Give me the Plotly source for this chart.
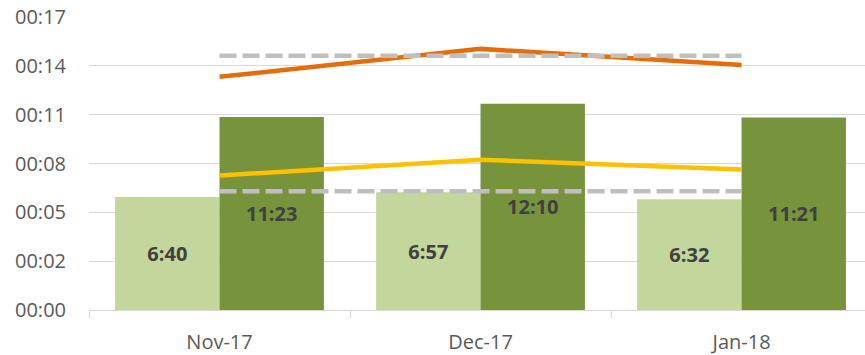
import plotly.graph_objects as go

# Monthly handling times, in seconds
months = ["Nov-17", "Dec-17", "Jan-18"]
light_secs = [400, 417, 392]      # 6:40, 6:57, 6:32
dark_secs = [683, 730, 681]       # 11:23, 12:10, 11:21
orange_secs = [825, 924, 867]
yellow_secs = [476, 532, 497]
upper_target = [900, 900, 900]
lower_target = [420, 420, 420]

# y axis in Excel-style day fractions: step 0.002 day = 172.8 s
tick_step = 172.8
tick_vals = [i * tick_step for i in range(7)]
tick_text = ["00:%02d" % int(v // 60) for v in tick_vals]


def mmss(s):
    return "%d:%02d" % (s // 60, s % 60)


bar_label_font = dict(family="Open Sans", size=20, color="#404040", weight="bold")

fig = go.Figure()
fig.add_trace(go.Bar(
    x=months, y=light_secs, marker=dict(color="#C3D69B", line=dict(width=0)),
    text=[mmss(v) for v in light_secs], textposition="inside",
    insidetextanchor="middle", textangle=0, textfont=bar_label_font,
))
fig.add_trace(go.Bar(
    x=months, y=dark_secs, marker=dict(color="#77933C", line=dict(width=0)),
    text=[mmss(v) for v in dark_secs], textposition="inside",
    insidetextanchor="middle", textangle=0, textfont=bar_label_font,
))
fig.add_trace(go.Scatter(x=months, y=orange_secs, mode="lines",
                         line=dict(color="#E46C0A", width=4.5)))
fig.add_trace(go.Scatter(x=months, y=yellow_secs, mode="lines",
                         line=dict(color="#FFC000", width=4.5)))
for tgt in (upper_target, lower_target):
    fig.add_trace(go.Scatter(x=months, y=tgt, mode="lines",
                             line=dict(color="#BFBFBF", width=4.5, dash="17px,6px")))

fig.update_layout(
    width=865, height=355,
    margin=dict(l=89, r=0, t=17, b=45),
    paper_bgcolor="white", plot_bgcolor="white",
    showlegend=False,
    barmode="group", bargap=0.2, bargroupgap=0,
    font=dict(family="Open Sans", size=20, color="#595959"),
)
fig.update_xaxes(
    type="category", range=[-0.5, 2.473],
    showline=True, linecolor="#D9D9D9", linewidth=1,
    ticks="outside", tickson="boundaries", ticklen=7, tickcolor="#D9D9D9",
    ticklabelstandoff=14, showgrid=False,
    tickfont=dict(family="Open Sans", size=20, color="#595959"),
)
fig.update_yaxes(
    range=[0, 6 * tick_step], tickvals=tick_vals, ticktext=tick_text,
    showgrid=True, gridcolor="#D9D9D9", gridwidth=1,
    zeroline=False, showline=False, ticks="", ticklabelstandoff=22,
    tickfont=dict(family="Open Sans", size=20, color="#595959"),
)

fig.write_html("out.html")
